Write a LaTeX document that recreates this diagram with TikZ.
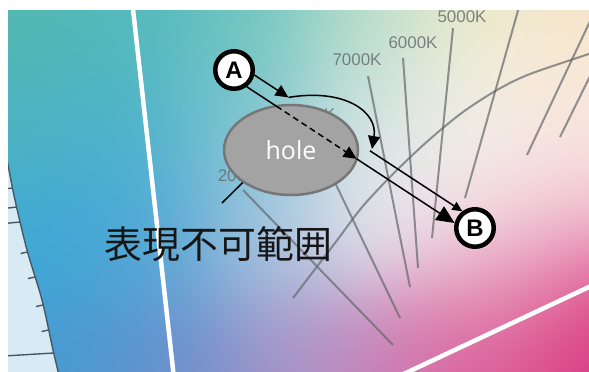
\documentclass[tikz,border=0pt]{standalone}
\usepackage{fontspec}
\setmainfont{Liberation Sans}
\newfontfamily\jpfont{Noto Sans CJK JP}
\newfontfamily\holefont{Open Sans}
\usetikzlibrary{arrows.meta,shapes.geometric}
\definecolor{greyln}{RGB}{100,104,108}
\definecolor{paleblue}{RGB}{216,235,245}
\definecolor{holefill}{RGB}{163,163,163}
\definecolor{holeedge}{RGB}{118,118,118}
\definecolor{locusc}{RGB}{70,88,100}
\definecolor{txtc}{RGB}{22,22,22}
\def\blob#1#2#3#4#5{5 index #1 sub dup mul 5 index #2 sub dup mul add neg 7000 div 2.71828 exch exp dup 3 -1 roll add exch dup #5 mul 4 -1 roll add 3 1 roll dup #4 mul 5 -1 roll add 4 1 roll dup #3 mul 6 -1 roll add 5 1 roll pop }
\pgfdeclarefunctionalshading{chroma}{\pgfpoint{0bp}{0bp}}{\pgfpoint{589bp}{371bp}}{}{
0 0 0 0.0000001
\blob{10}{356}{0.33}{0.72}{0.68}
\blob{130}{356}{0.33}{0.73}{0.73}
\blob{250}{356}{0.42}{0.77}{0.74}
\blob{360}{356}{0.70}{0.86}{0.78}
\blob{470}{356}{0.92}{0.92}{0.78}
\blob{580}{356}{0.97}{0.89}{0.78}
\blob{10}{251}{0.30}{0.70}{0.76}
\blob{130}{251}{0.30}{0.70}{0.80}
\blob{250}{251}{0.50}{0.77}{0.82}
\blob{370}{261}{0.82}{0.89}{0.88}
\blob{470}{261}{0.96}{0.94}{0.91}
\blob{580}{261}{0.98}{0.92}{0.88}
\blob{60}{131}{0.24}{0.66}{0.84}
\blob{160}{131}{0.33}{0.66}{0.84}
\blob{270}{131}{0.68}{0.78}{0.88}
\blob{380}{151}{0.91}{0.91}{0.94}
\blob{480}{171}{0.97}{0.93}{0.93}
\blob{585}{171}{0.96}{0.82}{0.85}
\blob{80}{11}{0.28}{0.60}{0.82}
\blob{180}{11}{0.44}{0.55}{0.80}
\blob{290}{11}{0.66}{0.58}{0.78}
\blob{390}{11}{0.80}{0.50}{0.72}
\blob{490}{51}{0.88}{0.48}{0.66}
\blob{585}{71}{0.86}{0.25}{0.52}
\blob{500}{111}{0.93}{0.76}{0.83}
\blob{585}{0}{0.85}{0.20}{0.48}
\blob{490}{0}{0.85}{0.30}{0.55}
1 exch div exch 1 index mul 3 1 roll exch 1 index mul 3 1 roll 4 -1 roll mul 3 1 roll 5 3 roll pop pop
}
\begin{document}
\begin{tikzpicture}[x=1bp,y=-1bp,
  greyline/.style={draw=greyln, line width=2bp, opacity=0.7},
  klabel/.style={text=greyln, opacity=0.8, inner sep=0, font=\fontsize{17}{18}\selectfont},
  locus/.style={draw=locusc, line width=1.4bp},
  wline/.style={draw=white, line width=4.5bp},
  ln/.style={draw=black, line width=1.5bp},
  arr/.style={-{Triangle[length=13bp,width=12bp]}},
  circ/.style={circle, draw=black, line width=4.5bp, fill=white, minimum size=37.5bp, inner sep=0, font=\bfseries\fontsize{24}{24}\selectfont},
  holestyle/.style={ellipse, fill=holefill, draw=holeedge, line width=2.5bp, minimum width=134bp, minimum height=90bp, inner sep=0, text=white, font=\holefont\fontsize{25}{26}\selectfont}]
\useasboundingbox (0,0) rectangle (589,371);
\fill[white] (0,0) rectangle (589,371);
\begin{scope}
\clip (8,10) rectangle (589,371);
\node[inner sep=0, outer sep=0, anchor=south west] (bg) at (0,371) {\pgfuseshading{chroma}};
% outside of the locus
\fill[paleblue] plot[smooth] coordinates {(5,150) (8,165) (15,200) (27,250) (42,300) (53,350) (58,371) (60,380)} -- (0,380) -- (0,150) -- cycle;
\draw[locus] plot[smooth] coordinates {(5,150) (8,165) (15,200) (27,250) (42,300) (53,350) (58,371) (60,380)};
\foreach \xa/\ya/\xb/\yb in {12.6/188/4/189, 16.7/207/4/208.5, 20.3/222/4/223.5, 27.6/252/20.6/253.5, 35.1/277/28.1/278.5, 43.1/305/36.1/306.5, 48.6/330/41.6/331.5, 53.7/353/4/356}
  \draw[locus] (\xa,\ya) -- (\xb,\yb);
% isotemperature lines
\draw[greyline] (453,28) -- (432,238);
\draw[greyline] (403,58) -- (418,268);
\draw[greyline] (368,76) -- (410,287);
\draw[greyline] (304,118) -- (400,318);
\draw[greyline] (243,190) -- (393,345);
\draw[greyline] (521,0) -- (465,198);
\draw[greyline] (600,0) -- (527,155);
\draw[greyline] (600,56) -- (560,137);
\draw[greyline] plot[smooth] coordinates {(293,298) (335,243) (363,206) (397,170) (430,139) (463,112) (497,90) (530,74) (595,52)};
\node[klabel] (k5) at (462,17) {5000K};
\node[klabel] (k6) at (413,43) {6000K};
\node[klabel] (k7) at (357,60) {7000K};
\node[klabel] (k10) at (306,115) {10000K};
\node[klabel] (k20) at (247,176) {20000K};
% white lines
\draw[wline] (132,0) -- (174.2,380);
\draw[wline] (400,375.7) -- (600,281.8);
\end{scope}
% hole
\node[holestyle] (hole) at (291,150) {hole};
% label
\coordinate (lend) at (222,203);
\draw[ln] (hole.214) -- (lend);
\node[inner sep=0, text=txtc, font=\jpfont\fontsize{38}{40}\selectfont] (lbl) at (218.5,244) {表現不可範囲};
% arrows
\coordinate (a1) at (254.4,75);
\coordinate (k1) at (288.5,97.4);
\coordinate (c1) at (372,149);
\coordinate (s1) at (370,150.8);
\coordinate (b1) at (462.3,211.3);
\coordinate (a2) at (246.7,86.7);
\coordinate (e1) at (276.4,106.2);
\coordinate (e2) at (356.6,158.8);
\coordinate (b2) at (454.6,223);
\draw[ln, arr] (a1) -- (k1);
\draw[ln, arr] (k1) .. controls (345,88) and (378,112) .. (c1);
\draw[ln, -{Triangle[length=10bp,width=9bp]}] (s1) -- (b1);
\draw[ln] (a2) -- (e1);
\draw[ln, dash pattern=on 6bp off 4bp, arr] (e1) -- (e2);
\draw[ln, -{Triangle[length=18bp,width=16bp]}] (e2) -- (b2);
% points
\node[circ] (A) at (234,70) {A};
\node[circ] (B) at (475,228) {B};
\end{tikzpicture}
\end{document}
